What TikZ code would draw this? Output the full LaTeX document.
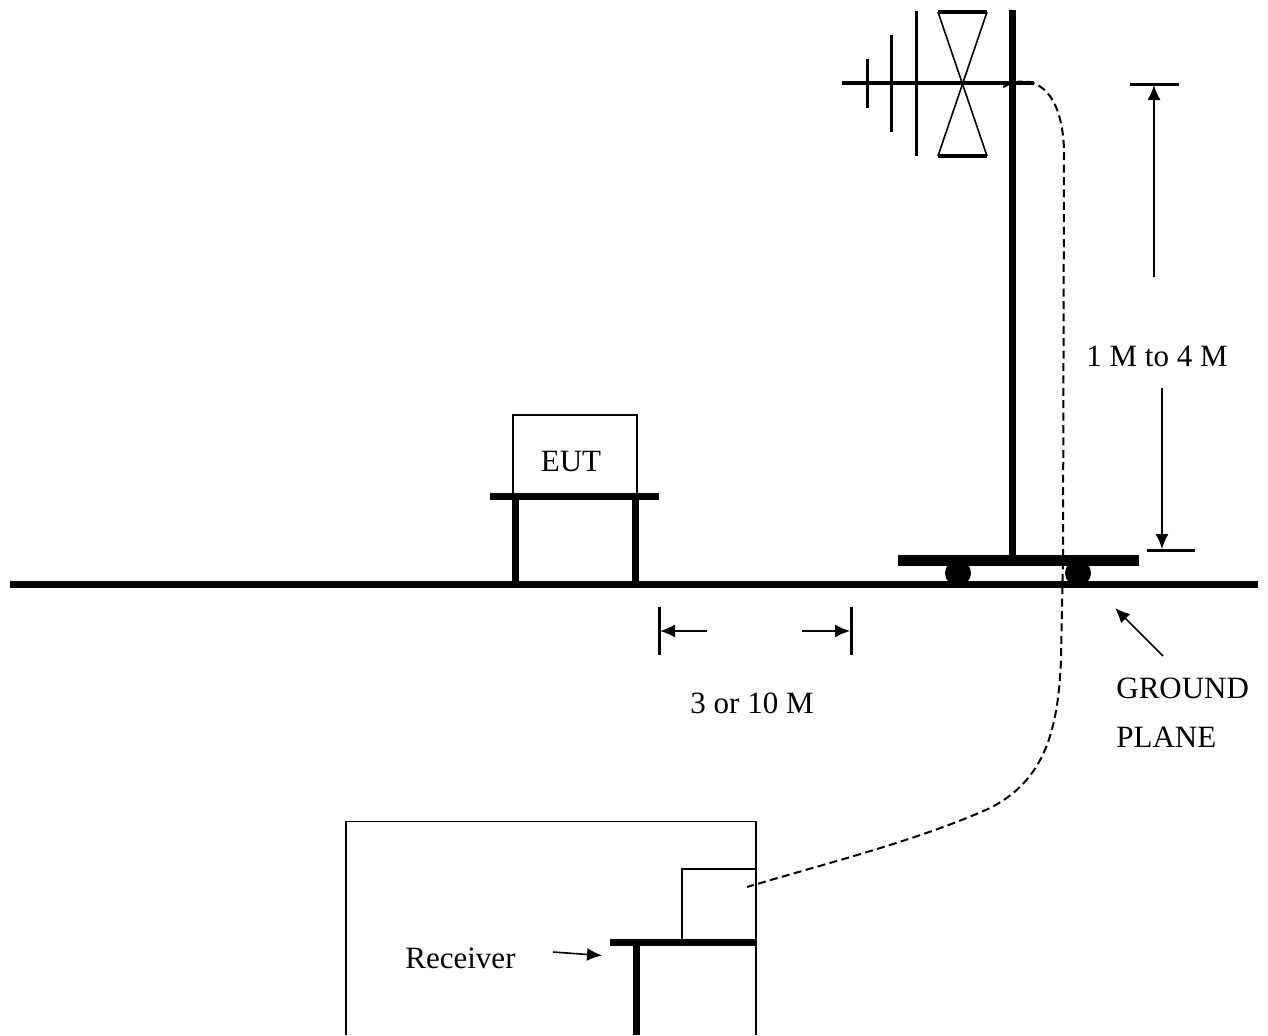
\documentclass[tikz,border=0pt]{standalone}
\usepackage{fontspec}
\setmainfont{Liberation Serif}
\usetikzlibrary{arrows.meta}
\begin{document}
\begin{tikzpicture}[x=0.5pt,y=-0.5pt,
  thickbar/.style={line width=3.5pt},
  thinline/.style={line width=0.8pt},
  dimarrow/.style={line width=0.8pt,-{Latex[length=7.5pt,width=6.5pt]}},
  tick/.style={line width=1.5pt},
  cable/.style={line width=1pt,dash pattern=on 4pt off 2.2pt},
  lbl/.style={inner sep=0pt,font=\fontsize{15.5}{18}\selectfont}]
\useasboundingbox (0,0) rectangle (1268,1035);
% ground plane
\draw[thickbar] (10,584.5) -- (1258,584.5);
% EUT table
\draw[thinline] (513,497) -- (513,415) -- (637,415) -- (637,497);
\node[lbl,anchor=base] (eut) at (571,471) {EUT};
\draw[thickbar] (490,496.5) -- (659,496.5);
\draw[thickbar] (515.5,497) -- (515.5,581);
\draw[thickbar] (635,497) -- (635,581);
% antenna mast and platform
\draw[thickbar] (1012,10) -- (1012,557);
\draw[line width=5.5pt] (898,560.5) -- (1139,560.5);
\fill (958,573) circle (13);
\fill (1078,573) circle (13);
% antenna
\draw[line width=1.6pt] (842,83) -- (1034,83);
\draw[line width=1.5pt] (867,59) -- (867,108);
\draw[line width=1.5pt] (891,35) -- (891,132);
\draw[line width=1.5pt] (916,11) -- (916,156);
\draw[line width=1.6pt] (938,12) -- (987,12);
\draw[line width=1.6pt] (938,156) -- (987,156);
\draw[thinline] (938,12) -- (987,156);
\draw[thinline] (987,12) -- (938,156);
% cable
\coordinate (cs) at (1003,87);
\coordinate (ce) at (747,887);
\draw[cable] (cs) .. controls (1030,72) and (1062,85) .. (1064,150)
  -- (1063,560) -- (1061,660)
  .. controls (1058,730) and (1045,780) .. (990,808)
  .. controls (920,840) and (820,865) .. (ce);
% height dimension
\draw[tick] (1130,84) -- (1179,84);
\draw[tick] (1147,550) -- (1195,550);
\draw[dimarrow] (1154,277) -- (1154,85);
\draw[dimarrow] (1162,388) -- (1162,549);
\node[lbl,anchor=base] (hgt) at (1157,366) {1 M to 4 M};
% distance dimension
\draw[tick] (659,607) -- (659,655);
\draw[tick] (851,607) -- (851,655);
\draw[dimarrow] (707,631) -- (660,631);
\draw[dimarrow] (802,631) -- (850,631);
\node[lbl,anchor=base] (dist) at (752,713) {3 or 10 M};
% ground plane label
\draw[dimarrow] (1163,656) -- (1115,608);
\node[lbl,anchor=base west] (gp1) at (1116,698) {GROUND};
\node[lbl,anchor=base west] (gp2) at (1116,747) {PLANE};
% receiver
\draw[thinline] (346,1035) -- (346,821.5) -- (756,821.5) -- (756,1035);
\draw[thinline] (682,942) -- (682,869) -- (756,869) -- (756,942);
\draw[thickbar] (610,942.5) -- (756,942.5);
\draw[thickbar] (636,943) -- (636,1035);
\node[lbl,anchor=base west] (rcv) at (405,968) {Receiver};
\draw[dimarrow] (553,952) -- (602,955.5);
\end{tikzpicture}
\end{document}
